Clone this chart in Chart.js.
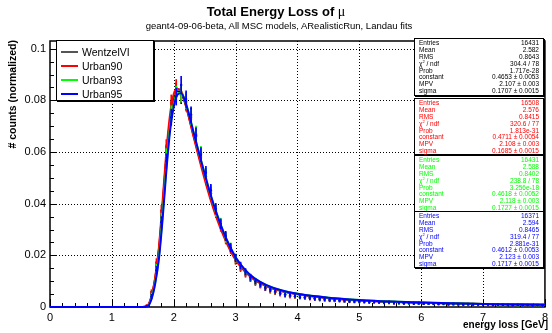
<!DOCTYPE html>
<html>
<head>
<meta charset="utf-8">
<script src="https://cdn.jsdelivr.net/npm/chart.js@4.4.0/dist/chart.umd.min.js"></script>
<style>
  body { margin: 0; background: #fff; }
  #wrap { position: relative; width: 552px; height: 333px; overflow: hidden;
          font-family: 'Liberation Sans', Arial, sans-serif; color: #000; }
  #c { position: absolute; left: 0; top: 0; }
  .abs { position: absolute; white-space: nowrap; }
  #title { left: 0; width: 552px; top: 5px; text-align: center; font-weight: bold; font-size: 13px; line-height: 14px; }
  #title .mu { font-family: 'Liberation Serif', 'DejaVu Serif', serif; font-weight: normal; font-size: 14px; }
  #subtitle { left: 3px; width: 552px; top: 20px; text-align: center; font-size: 9.5px; line-height: 11px; }
  #ytitle { left: 6px; top: 240px; width: 200px; height: 12px; line-height: 12px; text-align: right;
            font-weight: bold; font-size: 10.5px; transform-origin: left top; transform: rotate(-90deg); }
  #xtitle { left: 348px; width: 200px; top: 319px; line-height: 12px; text-align: right; font-weight: bold; font-size: 10px; }
  #legend { left: 56px; top: 40px; width: 96px; height: 59px; background: #fff; border: 1px solid #000;
            box-shadow: 1px 1px 0 #000; }
  .lrow { position: absolute; left: 0; height: 14px; width: 96px; }
  .lrow .ln { position: absolute; left: 4px; top: 6px; width: 17px; height: 1.5px; }
  .lrow .tx { position: absolute; left: 25px; top: 0; font-size: 10.5px; line-height: 14px; }
  .stats { position: absolute; left: 414px; width: 130px; background: #fff; border: 1px solid #000;
           box-shadow: 1px 1px 0 #000; padding-top: 1px; box-sizing: border-box; }
  .srow { position: relative; height: 6.9px; font-size: 6.5px; line-height: 6.9px; }
  .srow .k { position: absolute; left: 4px; }
  .srow .v { position: absolute; right: 4px; }
  .srow sup { font-size: 4px; vertical-align: 3px; line-height: 0; }
</style>
</head>
<body>
<div id="wrap">
  <canvas id="c" width="552" height="333"></canvas>
  <div id="title" class="abs">Total Energy Loss of <span class="mu">μ</span></div>
  <div id="subtitle" class="abs">geant4-09-06-beta, All MSC models, ARealisticRun, Landau fits</div>
  <div id="ytitle" class="abs"># counts (normalized)</div>
  <div id="xtitle" class="abs">energy loss [GeV]</div>
  <div id="legend" class="abs"></div>
</div>
<script>
// series
const seriesNames = ['WentzelVI', 'Urban90', 'Urban93', 'Urban95'];
const seriesColors = ['#000000', '#ff0000', '#00ff00', '#0000ff'];

// histogram bins (0.08 GeV wide, first non-empty bin starts at 1.52)
const binLow = 1.52;
const binWidth = 0.08;

const wentzelHist = [
  0.0004, 0.0052, 0.0160, 0.0355, 0.0600, 0.0770, 0.0835, 0.0820, 0.0795, 0.0740,
  0.0660, 0.0585, 0.0505, 0.0440, 0.0368, 0.0318, 0.0270, 0.0224, 0.0183, 0.0155,
  0.0132, 0.0112, 0.0097, 0.0085, 0.0074, 0.0066, 0.0058, 0.0052, 0.0047, 0.0044,
  0.0041, 0.0039, 0.0036, 0.0038, 0.0033, 0.0031, 0.0030, 0.0029, 0.0026, 0.0027,
  0.0024, 0.0024, 0.0022, 0.0023, 0.0021, 0.0020, 0.0021, 0.0019, 0.0018, 0.0019,
  0.0017, 0.0016, 0.0017, 0.0015, 0.0016, 0.0014, 0.0015, 0.0013, 0.0014, 0.0012,
  0.0013, 0.0012, 0.0011, 0.0012, 0.0011, 0.0010, 0.0011, 0.0010, 0.0009, 0.0010,
  0.0009, 0.0008, 0.0009, 0.0008, 0.0008, 0.0007, 0.0008, 0.0007, 0.0007, 0.0006,
  0.0007
];
const urban90Hist = [
  0.0005, 0.0058, 0.0172, 0.0372, 0.0620, 0.0790, 0.0848, 0.0830, 0.0790, 0.0728,
  0.0668, 0.0578, 0.0498, 0.0432, 0.0375, 0.0312, 0.0262, 0.0228, 0.0180, 0.0151,
  0.0128, 0.0110, 0.0094, 0.0083, 0.0073, 0.0062, 0.0057, 0.0050, 0.0046, 0.0042,
  0.0040, 0.0037, 0.0035, 0.0033, 0.0032, 0.0030, 0.0029, 0.0026, 0.0027, 0.0025,
  0.0024, 0.0022, 0.0023, 0.0021, 0.0020, 0.0021, 0.0019, 0.0018, 0.0019, 0.0017,
  0.0016, 0.0017, 0.0015, 0.0016, 0.0014, 0.0015, 0.0013, 0.0014, 0.0012, 0.0013,
  0.0012, 0.0011, 0.0012, 0.0010, 0.0011, 0.0011, 0.0010, 0.0009, 0.0010, 0.0009,
  0.0008, 0.0009, 0.0008, 0.0009, 0.0007, 0.0008, 0.0007, 0.0007, 0.0006, 0.0007,
  0.0006
];
const urban93Hist = [
  0.0003, 0.0045, 0.0150, 0.0340, 0.0585, 0.0748, 0.0822, 0.0826, 0.0800, 0.0735,
  0.0672, 0.0595, 0.0512, 0.0448, 0.0372, 0.0325, 0.0268, 0.0232, 0.0188, 0.0158,
  0.0134, 0.0114, 0.0099, 0.0086, 0.0076, 0.0067, 0.0060, 0.0053, 0.0049, 0.0045,
  0.0042, 0.0040, 0.0037, 0.0035, 0.0034, 0.0032, 0.0030, 0.0029, 0.0028, 0.0026,
  0.0025, 0.0024, 0.0022, 0.0022, 0.0021, 0.0020, 0.0019, 0.0020, 0.0018, 0.0017,
  0.0018, 0.0016, 0.0016, 0.0015, 0.0015, 0.0014, 0.0014, 0.0013, 0.0013, 0.0013,
  0.0012, 0.0012, 0.0011, 0.0011, 0.0011, 0.0010, 0.0010, 0.0010, 0.0009, 0.0009,
  0.0009, 0.0008, 0.0008, 0.0008, 0.0008, 0.0007, 0.0007, 0.0007, 0.0007, 0.0006,
  0.0006
];
const urban95Hist = [
  0.0002, 0.0040, 0.0142, 0.0328, 0.0565, 0.0735, 0.0815, 0.0860, 0.0805, 0.0745,
  0.0665, 0.0590, 0.0520, 0.0452, 0.0380, 0.0322, 0.0275, 0.0230, 0.0190, 0.0160,
  0.0136, 0.0115, 0.0100, 0.0087, 0.0075, 0.0068, 0.0061, 0.0054, 0.0048, 0.0046,
  0.0043, 0.0039, 0.0038, 0.0035, 0.0033, 0.0032, 0.0031, 0.0028, 0.0028, 0.0026,
  0.0025, 0.0023, 0.0023, 0.0022, 0.0021, 0.0019, 0.0020, 0.0019, 0.0017, 0.0018,
  0.0016, 0.0017, 0.0015, 0.0016, 0.0014, 0.0015, 0.0013, 0.0014, 0.0013, 0.0012,
  0.0013, 0.0011, 0.0012, 0.0011, 0.0010, 0.0011, 0.0010, 0.0010, 0.0009, 0.0010,
  0.0008, 0.0009, 0.0008, 0.0008, 0.0007, 0.0008, 0.0007, 0.0007, 0.0006, 0.0007,
  0.0006
];
// bin errors, about the same for all four models
const binErrors = [
  0.0003, 0.0009, 0.0015, 0.0022, 0.0028, 0.0031, 0.0033, 0.0033, 0.0032, 0.0030,
  0.0029, 0.0027, 0.0025, 0.0023, 0.0021, 0.0019, 0.0018, 0.0016, 0.0015, 0.0014,
  0.0013, 0.0012, 0.0011, 0.0010, 0.0010, 0.0009, 0.0009, 0.0008, 0.0008, 0.0008,
  0.0007, 0.0007, 0.0007, 0.0007, 0.0007, 0.0007, 0.0007, 0.0006, 0.0006, 0.0006,
  0.0006, 0.0006, 0.0006, 0.0006, 0.0005, 0.0005, 0.0005, 0.0005, 0.0005, 0.0005,
  0.0005, 0.0005, 0.0005, 0.0005, 0.0005, 0.0005, 0.0004, 0.0004, 0.0004, 0.0004,
  0.0004, 0.0004, 0.0004, 0.0004, 0.0004, 0.0004, 0.0004, 0.0004, 0.0004, 0.0004,
  0.0004, 0.0004, 0.0004, 0.0004, 0.0004, 0.0004, 0.0004, 0.0004, 0.0004, 0.0004,
  0.0004
];

// Landau fit curves
const fitX = [0, 1.5, 1.58, 1.64, 1.70, 1.76, 1.82, 1.88, 1.94, 2.00, 2.06, 2.12, 2.18, 2.24, 2.32, 2.40,
              2.50, 2.60, 2.70, 2.80, 2.90, 3.00, 3.15, 3.30, 3.50, 3.75, 4.00, 4.50, 5.00, 5.50, 6.00, 7.00, 8.00];
const wentzelFit = [0, 0, 0.0006, 0.0040, 0.0110, 0.0220, 0.0390, 0.0580, 0.0720, 0.0800, 0.0835, 0.0828, 0.0792, 0.0742, 0.0665, 0.0592,
                    0.0503, 0.0420, 0.0348, 0.0284, 0.0230, 0.0186, 0.0140, 0.0108, 0.0082, 0.0062, 0.0050, 0.0035, 0.0026, 0.0020, 0.0016, 0.0012, 0.0009];
const urban90Fit = [0, 0, 0.0006, 0.0042, 0.0115, 0.0230, 0.0410, 0.0600, 0.0745, 0.0825, 0.0845, 0.0836, 0.0795, 0.0740, 0.0660, 0.0585,
                    0.0495, 0.0412, 0.0340, 0.0278, 0.0225, 0.0182, 0.0137, 0.0106, 0.0080, 0.0061, 0.0049, 0.0034, 0.0025, 0.0020, 0.0016, 0.0012, 0.0009];
const urban93Fit = [0, 0, 0.0004, 0.0033, 0.0095, 0.0195, 0.0355, 0.0540, 0.0695, 0.0785, 0.0828, 0.0830, 0.0800, 0.0752, 0.0676, 0.0603,
                    0.0515, 0.0431, 0.0358, 0.0293, 0.0238, 0.0193, 0.0145, 0.0112, 0.0085, 0.0064, 0.0051, 0.0036, 0.0027, 0.0021, 0.0017, 0.0012, 0.0009];
const urban95Fit = [0, 0, 0.0003, 0.0030, 0.0090, 0.0185, 0.0340, 0.0525, 0.0680, 0.0775, 0.0822, 0.0828, 0.0800, 0.0752, 0.0677, 0.0604,
                    0.0516, 0.0432, 0.0358, 0.0293, 0.0238, 0.0193, 0.0145, 0.0112, 0.0085, 0.0064, 0.0051, 0.0036, 0.0027, 0.0021, 0.0017, 0.0012, 0.0009];

// axes
const xTicks = [0, 1, 2, 3, 4, 5, 6, 7, 8];
const xTickLabels = ['0', '1', '2', '3', '4', '5', '6', '7', '8'];
const yTicks = [0, 0.02, 0.04, 0.06, 0.08, 0.1];
const yTickLabels = ['0', '0.02', '0.04', '0.06', '0.08', '0.1'];

// stat boxes
const statsLabels = ['Entries', 'Mean', 'RMS', 'χ<sup>2</sup> / ndf', 'Prob', 'constant', 'MPV', 'sigma'];
const wentzelStats = ['16431', '2.582', '0.8643', '304.4 / 78', '1.717e-28', '0.4653 ± 0.0053', '2.107 ± 0.003', '0.1707 ± 0.0015'];
const urban90Stats = ['16508', '2.576', '0.8415', '320.6 / 77', '1.813e-31', '0.4711 ± 0.0054', '2.108 ± 0.003', '0.1685 ± 0.0015'];
const urban93Stats = ['16431', '2.588', '0.8402', '238.8 / 78', '3.256e-18', '0.4618 ± 0.0052', '2.118 ± 0.003', '0.1727 ± 0.0015'];
const urban95Stats = ['16371', '2.594', '0.8465', '319.4 / 77', '2.881e-31', '0.4612 ± 0.0053', '2.123 ± 0.003', '0.1717 ± 0.0015'];

const FONT = "'Liberation Sans', Arial, sans-serif";
const histData = [wentzelHist, urban90Hist, urban93Hist, urban95Hist];
const fitData = [wentzelFit, urban90Fit, urban93Fit, urban95Fit];
const statsData = [wentzelStats, urban90Stats, urban93Stats, urban95Stats];
const binCenters = wentzelHist.map((_, i) => +(binLow + binWidth * (i + 0.5)).toFixed(2));

// datasets: error bars, markers, fit for each model (Urban95 ends up on top)
const datasets = [];
seriesNames.forEach((name, s) => {
    const color = seriesColors[s];
    const base = (seriesNames.length - 1 - s) * 3;
    datasets.push({
        type: 'bar',
        label: name + ' errors',
        data: histData[s].map((v, i) => ({ x: binCenters[i], y: [v - binErrors[i], v + binErrors[i]] })),
        backgroundColor: color,
        borderWidth: 0,
        barThickness: 1,
        grouped: false,
        order: base + 2
    });
    datasets.push({
        type: 'scatter',
        label: name,
        data: histData[s].map((v, i) => ({ x: binCenters[i], y: v })),
        backgroundColor: color,
        borderColor: color,
        borderWidth: 0,
        pointRadius: 1.2,
        showLine: false,
        order: base + 1
    });
    datasets.push({
        type: 'line',
        label: name + ' fit',
        data: fitX.map((x, i) => ({ x: x, y: fitData[s][i] })),
        borderColor: color,
        borderWidth: 2,
        pointRadius: 0,
        fill: false,
        cubicInterpolationMode: 'monotone',
        clip: false,
        order: base
    });
});

// ROOT style frame: dotted grid, inside ticks, box
const rootFrame = {
    id: 'rootFrame',
    beforeDatasetsDraw(chart) {
        const { ctx, chartArea: a, scales: { x, y } } = chart;
        const seg = (x1, y1, x2, y2) => { ctx.beginPath(); ctx.moveTo(x1, y1); ctx.lineTo(x2, y2); ctx.stroke(); };
        ctx.save();
        ctx.strokeStyle = '#000';
        ctx.lineWidth = 1;
        ctx.setLineDash([1, 2]);
        xTicks.slice(1, -1).forEach(v => {
            const px = Math.round(x.getPixelForValue(v)) + 0.5;
            seg(px, a.top, px, a.bottom);
        });
        yTicks.slice(1).forEach(v => {
            const py = Math.round(y.getPixelForValue(v)) + 0.5;
            seg(a.left, py, a.right, py);
        });
        ctx.setLineDash([]);
        // minor + major ticks
        for (let v = 0; v <= 8.001; v += 0.2) {
            const major = Math.abs(v - Math.round(v)) < 1e-6;
            const px = Math.round(x.getPixelForValue(v)) + 0.5;
            seg(px, a.bottom, px, a.bottom - (major ? 8 : 4));
        }
        for (let v = 0; v <= 0.1031; v += 0.005) {
            const major = Math.abs(v / 0.02 - Math.round(v / 0.02)) < 1e-6;
            const py = Math.round(y.getPixelForValue(v)) + 0.5;
            seg(a.left, py, a.left + (major ? 7 : 4), py);
        }
        ctx.lineWidth = 1.5;
        ctx.strokeRect(a.left, a.top, a.right - a.left, a.bottom - a.top);
        ctx.restore();
    }
};

const ctx = document.getElementById('c').getContext('2d');
new Chart(ctx, {
    type: 'line',
    data: { datasets: datasets },
    options: {
        responsive: false,
        animation: false,
        devicePixelRatio: 1,
        layout: { padding: { left: 10, right: 5, top: 41, bottom: 0 } },
        plugins: { legend: { display: false }, tooltip: { enabled: false } },
        scales: {
            x: {
                type: 'linear', min: 0, max: 8, offset: false,
                grid: { display: false, drawTicks: false, offset: false },
                border: { display: false },
                afterBuildTicks: sc => { sc.ticks = xTicks.map(v => ({ value: v })); },
                afterFit: sc => { sc.height = 26; },
                ticks: {
                    padding: 4, maxRotation: 0, autoSkip: false, color: '#000',
                    font: { family: FONT, size: 11 },
                    callback: (v, i) => xTickLabels[i]
                }
            },
            y: {
                type: 'linear', min: 0, max: 0.103,
                grid: { display: false, drawTicks: false },
                border: { display: false },
                afterBuildTicks: sc => { sc.ticks = yTicks.map(v => ({ value: v })); },
                afterFit: sc => { sc.width = 40; },
                ticks: {
                    padding: 4, color: '#000',
                    font: { family: FONT, size: 11 },
                    callback: (v, i) => yTickLabels[i]
                }
            }
        }
    },
    plugins: [rootFrame]
});

// legend box
const legend = document.getElementById('legend');
const legendRowTops = [4, 18, 32, 46];
seriesNames.forEach((name, s) => {
    const row = document.createElement('div');
    row.className = 'lrow';
    row.style.top = legendRowTops[s] + 'px';
    const ln = document.createElement('div');
    ln.className = 'ln';
    ln.style.backgroundColor = s === 0 ? '#555555' : seriesColors[s];
    const tx = document.createElement('div');
    tx.className = 'tx';
    tx.textContent = name;
    row.appendChild(ln);
    row.appendChild(tx);
    legend.appendChild(row);
});

// stat boxes
const wrap = document.getElementById('wrap');
const statsTops = [38, 98, 155, 211];
const statsHeights = [58, 57, 57, 57];
statsData.forEach((vals, s) => {
    const box = document.createElement('div');
    box.className = 'stats';
    box.style.top = statsTops[s] + 'px';
    box.style.height = statsHeights[s] + 'px';
    box.style.color = seriesColors[s];
    box.innerHTML = statsLabels.map((k, i) =>
        '<div class="srow"><span class="k">' + k + '</span><span class="v">' + vals[i] + '</span></div>').join('');
    wrap.appendChild(box);
});
</script>
</body>
</html>
